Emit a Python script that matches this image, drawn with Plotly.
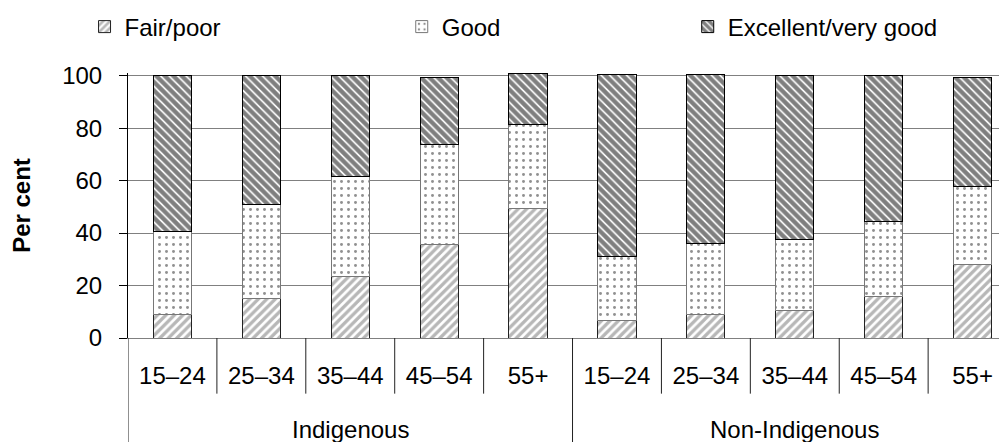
import plotly.graph_objects as go

groups = ["Indigenous", "Non-Indigenous"]
ages = ["15–24", "25–34", "35–44", "45–54", "55+"]

fair_poor = [8.9, 15.0, 23.5, 35.8, 49.4, 6.7, 8.9, 10.5, 15.9, 27.9]
good = [31.7, 35.7, 37.9, 37.8, 32.0, 24.2, 27.3, 27.2, 28.6, 29.7]
excellent = [59.4, 49.3, 38.6, 25.5, 19.4, 69.7, 64.4, 62.3, 55.5, 41.5]

series_names = ["Fair/poor", "Good", "Excellent/very good"]

n_age = len(ages)
xpos = list(range(len(groups) * n_age))
tick_text = [a for g in groups for a in ages]

FONT = "Liberation Sans, Arial, sans-serif"

fig = go.Figure()
fig.add_trace(go.Bar(
    x=xpos, y=fair_poor, name=series_names[0], width=0.43, legend="legend",
    marker=dict(color="white",
                pattern=dict(shape="/", fgcolor="#707070", bgcolor="white", size=6, solidity=0.55),
                line=dict(color="#222222", width=1)),
))
fig.add_trace(go.Bar(
    x=xpos, y=good, name=series_names[1], width=0.43, legend="legend2",
    marker=dict(color="white",
                pattern=dict(shape=".", fgcolor="#222222", bgcolor="white", size=7, solidity=0.14),
                line=dict(color="#777777", width=1)),
))
fig.add_trace(go.Bar(
    x=xpos, y=excellent, name=series_names[2], width=0.43, legend="legend3",
    marker=dict(color="white",
                pattern=dict(shape="\\", fgcolor="#000000", bgcolor="white", size=6, solidity=0.72),
                line=dict(color="#000000", width=1)),
))

# category separators (short) and group separators (long)
shapes = []
for i in range(1, len(xpos)):
    long_line = (i % n_age == 0)
    shapes.append(dict(type="line", xref="x", yref="paper",
                       x0=i - 0.5, x1=i - 0.5, y0=0, y1=(-0.45 if long_line else -0.21),
                       line=dict(color="#222222", width=1)))
shapes.append(dict(type="line", xref="x", yref="paper", x0=-0.5, x1=-0.5, y0=0, y1=-0.45,
                   line=dict(color="#222222", width=1)))

annotations = []
for gi, g in enumerate(groups):
    annotations.append(dict(xref="x", yref="paper", x=gi * n_age + (n_age - 1) / 2, y=-0.345,
                            text=g, showarrow=False, yanchor="middle", xanchor="center",
                            font=dict(family=FONT, size=24, color="black")))

leg_common = dict(orientation="h", yanchor="middle", xanchor="left",
                  xref="container", yref="container",
                  font=dict(family=FONT, size=24, color="black"),
                  bgcolor="rgba(0,0,0,0)", borderwidth=0)
fig.update_layout(
    width=1007, height=442,
    margin=dict(l=120, r=8, t=65, b=112, autoexpand=False),
    paper_bgcolor="white", plot_bgcolor="white",
    barmode="stack",
    showlegend=True,
    font=dict(family=FONT, size=24, color="black"),
    legend=dict(x=0.076, y=0.957, **leg_common),
    legend2=dict(x=0.391, y=0.957, **leg_common),
    legend3=dict(x=0.675, y=0.957, **leg_common),
    shapes=shapes,
    annotations=annotations,
    xaxis=dict(range=[-0.5, 9.387], tickvals=xpos, ticktext=tick_text,
               showline=True, linecolor="#808080", linewidth=1,
               ticks="", ticklabelstandoff=16, automargin=False,
               tickfont=dict(family=FONT, size=24, color="black"),
               showgrid=False, zeroline=False),
    yaxis=dict(range=[0, 101], tickvals=[0, 20, 40, 60, 80, 100],
               showgrid=True, gridcolor="#808080", gridwidth=1,
               showline=True, linecolor="#000000", linewidth=1,
               ticks="outside", ticklen=8, tickcolor="#000000",
               ticklabelstandoff=12, automargin=False,
               tickfont=dict(family=FONT, size=24, color="black"),
               title=dict(text="<b>Per cent</b>", font=dict(family=FONT, size=24, color="black"), standoff=30),
               zeroline=False),
)

fig.write_html("out.html")
